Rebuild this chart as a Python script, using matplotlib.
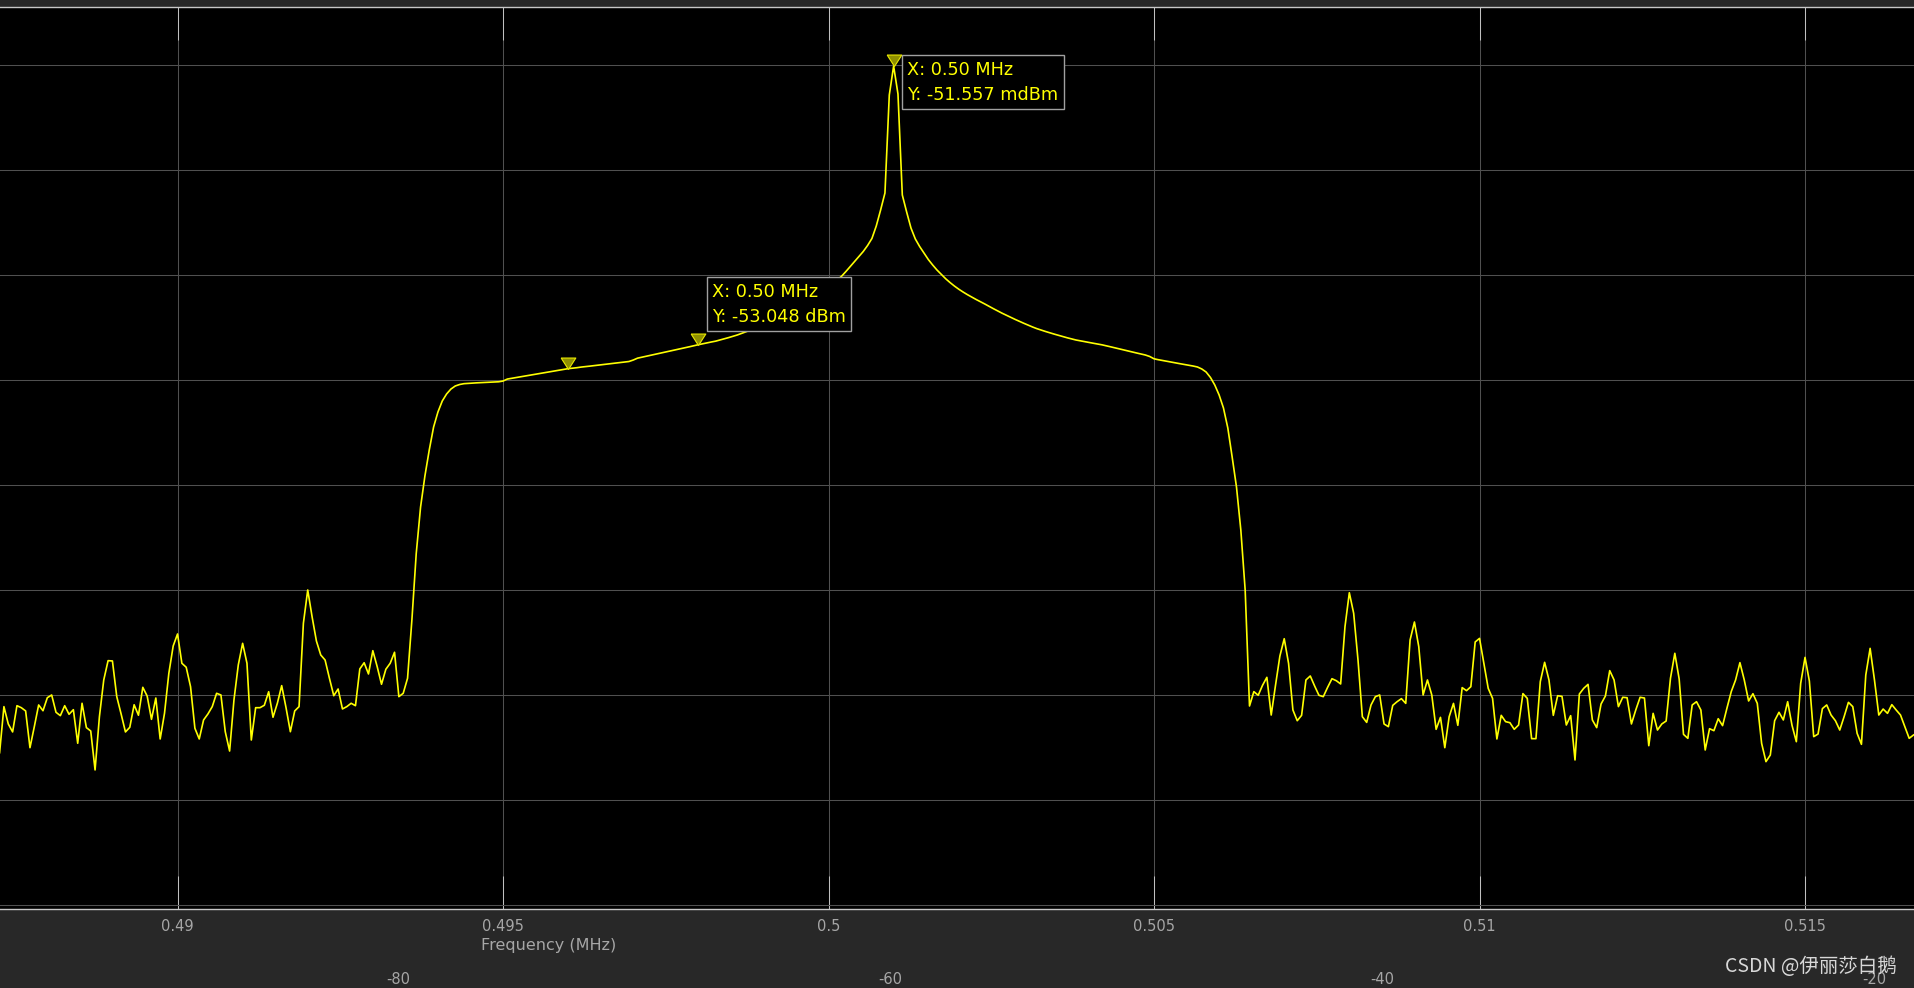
import numpy as np
import matplotlib.pyplot as plt

plt.rcParams['font.family'] = ['DejaVu Sans']
plt.rcParams['axes.unicode_minus'] = False

# spectrum bins (MHz)
freq_first = 0.4872667
freq_step = 0.0000666667

# power (dBm), left noise floor / filter passband / right noise floor
noise_low = [
    -75.47, -71.08, -72.73, -73.49, -70.99, -71.18, -71.49, -74.99, -72.99, -70.92,
    -71.47, -70.23, -69.97, -71.62, -71.94, -70.99, -71.81, -71.37, -74.57, -70.76,
    -73.08, -73.40, -77.11, -72.04, -68.54, -66.70, -66.73, -70.13, -71.78, -73.49,
    -73.05, -70.90, -71.90, -69.24, -70.07, -72.29, -70.26, -74.16, -71.71, -67.90,
    -65.30, -64.16, -66.95, -67.33, -69.18, -73.14, -74.16, -72.35, -71.78, -71.08,
    -69.81, -69.97, -73.47, -75.31, -70.45, -67.11, -65.05, -66.95, -74.26, -71.18,
    -71.18, -70.95, -69.66, -72.09, -70.76, -69.08, -71.18, -73.47, -71.49, -71.08,
    -63.14, -59.97, -62.51, -64.83, -66.16, -66.64, -68.38, -70.04, -69.40, -71.30,
    -71.08, -70.76, -70.99, -67.49, -66.90, -67.97, -65.75, -67.27, -68.95, -67.52,
    -66.95, -65.90, -70.13, -69.81, -68.38, -62.83, -56.50,
]
passband = [
    -52.07, -49.11, -46.64, -44.45, -43.02, -41.97, -41.30, -40.83, -40.54, -40.40,
    -40.32, -40.29, -40.26, -40.24, -40.22, -40.20, -40.18, -40.16, -40.14, -40.07,
    -39.88, -39.81, -39.73, -39.67, -39.59, -39.52, -39.46, -39.38, -39.31, -39.24,
    -39.17, -39.10, -39.03, -38.96, -38.89, -38.85, -38.80, -38.74, -38.70, -38.65,
    -38.60, -38.55, -38.50, -38.45, -38.40, -38.35, -38.30, -38.26, -38.21, -38.07,
    -37.89, -37.80, -37.71, -37.62, -37.53, -37.44, -37.35, -37.26, -37.16, -37.07,
    -36.98, -36.89, -36.80, -36.70, -36.61, -36.52, -36.44, -36.35, -36.27, -36.16,
    -36.05, -35.93, -35.81, -35.68, -35.53, -35.38, -35.22, -35.06, -34.89, -34.70,
    -34.52, -34.33, -34.13, -33.93, -33.72, -33.50, -33.28, -33.05, -32.80, -32.54,
    -32.28, -31.99, -31.70, -31.38, -31.06, -30.71, -30.44, -30.09, -29.64, -29.16,
    -28.69, -28.21, -27.73, -27.16, -26.49, -25.30, -23.78, -22.16, -12.83,
    -10.07,
    -12.73, -22.35, -23.97, -25.50, -26.54, -27.26, -27.88, -28.50, -29.02, -29.50,
    -29.92, -30.33, -30.69, -31.02, -31.32, -31.59, -31.84, -32.07, -32.30, -32.51,
    -32.73, -32.96, -33.18, -33.40, -33.61, -33.81, -34.01, -34.20, -34.39, -34.57,
    -34.75, -34.92, -35.08, -35.22, -35.35, -35.48, -35.60, -35.72, -35.84, -35.95,
    -36.06, -36.16, -36.24, -36.31, -36.39, -36.47, -36.54, -36.62, -36.71, -36.81,
    -36.91, -37.01, -37.10, -37.21, -37.30, -37.40, -37.49, -37.59, -37.73, -37.95,
    -38.04, -38.11, -38.19, -38.27, -38.34, -38.42, -38.49, -38.57, -38.64, -38.73,
    -38.92, -39.21, -39.73, -40.45, -41.40, -42.64, -44.54, -47.30, -50.16, -54.26,
    -59.97,
]
noise_high = [
    -71.02, -69.65, -70.00, -69.05, -68.29, -71.88, -69.02, -66.26, -64.61, -66.96,
    -71.40, -72.42, -71.91, -68.54, -68.16, -69.11, -70.00, -70.13, -69.24, -68.42,
    -68.61, -68.92, -63.46, -60.23, -62.19, -66.64, -72.04, -72.58, -70.92, -70.13,
    -69.97, -72.73, -72.99, -70.96, -70.61, -70.32, -70.77, -64.73, -63.02, -65.37,
    -69.97, -68.54, -69.97, -73.24, -72.10, -74.99, -72.04, -70.77, -72.86, -69.27,
    -69.56, -69.18, -64.92, -64.58, -66.96, -69.34, -70.29, -74.16, -71.91, -72.51,
    -72.61, -73.24, -72.83, -69.84, -70.29, -74.13, -74.13, -68.70, -66.86, -68.54,
    -71.91, -70.04, -70.10, -72.83, -71.94, -76.16, -69.88, -69.34, -68.96, -72.35,
    -73.08, -70.83, -70.07, -67.65, -68.54, -71.08, -70.19, -70.23, -72.73, -71.40,
    -70.19, -70.26, -74.80, -71.72, -73.31, -72.73, -72.45, -68.37, -66.00, -68.45,
    -73.72, -74.10, -70.92, -70.61, -71.40, -75.21, -73.18, -73.37, -72.23, -72.89,
    -71.24, -69.65, -68.54, -66.89, -68.54, -70.54, -69.85, -70.77, -74.58, -76.32,
    -75.69, -72.42, -71.62, -72.35, -70.61, -72.86, -74.42, -68.86, -66.39, -68.64,
    -73.94, -73.69, -71.27, -70.92, -71.88, -72.42, -73.31, -72.04, -70.67, -71.08,
    -73.62, -74.67, -68.07, -65.53, -68.54, -71.88, -71.31, -71.72, -70.89, -71.40,
    -71.88, -72.99, -74.10, -73.78,
]

marker_freqs = [0.496, 0.498, 0.501]
tip_freqs = [0.501, 0.498]
tip_texts = ['X: 0.50 MHz\nY: -51.557 mdBm', 'X: 0.50 MHz\nY: -53.048 dBm']
x_ticks = [0.49, 0.495, 0.5, 0.505, 0.51, 0.515]
other_ticks = [-80, -60, -40, -20]

power = np.array(noise_low + passband + noise_high)
freq = freq_first + freq_step * np.arange(len(power))

def bin_of(f):
    return int(round((f - freq_first) / freq_step))

fig = plt.figure(figsize=(19.14, 9.88), dpi=100, facecolor='#282828')
ax = fig.add_axes([0, 0.0800, 1, 0.9126], facecolor='black')

ax.plot(freq, power, color='#ffff00', lw=1.2, zorder=3)

# datatip markers, tip of the triangle sits on the trace
tri = [(-0.64, 1.0), (0.64, 1.0), (0.0, 0.0), (-0.64, 1.0)]
mp = [power[bin_of(f)] for f in marker_freqs]
ax.plot(marker_freqs, mp, linestyle='none', marker=tri, ms=16.5,
        mfc='#8f8f00', mec='#e8e800', mew=0.8, zorder=4)

tip_offsets = [(13.7, 5.3), (14, 62)]
for f, txt, off in zip(tip_freqs, tip_texts, tip_offsets):
    ax.annotate(txt, xy=(f, power[bin_of(f)]), xytext=off, textcoords='offset pixels',
                ha='left', va='top', color='#ffff00', fontsize=12.7, linespacing=1.5,
                bbox=dict(boxstyle='square,pad=0.3', fc='black', ec='#a0a0a0', lw=1),
                zorder=5)

ax.set_xlim(0.487273, 0.516674)
ax.set_ylim(-90.35, -4.475)
ax.set_xticks(x_ticks)
ax.set_xticklabels([f'{t:g}' for t in x_ticks])
ax.set_yticks(np.arange(-90, -5, 10))
ax.tick_params(axis='y', length=0, labelleft=False)
ax.tick_params(axis='x', direction='in', length=23.8, width=0.75, color='#c0c0c0',
               top=True, labelcolor='#a6a6a6', labelsize=10.5, pad=7.3)
ax.grid(True, color='#505050', lw=0.75)
for s in ['left', 'right']:
    ax.spines[s].set_visible(False)
for s in ['top', 'bottom']:
    ax.spines[s].set_color('#c8c8c8')
    ax.spines[s].set_linewidth(1)

ax.set_xlabel('Frequency (MHz)', fontsize=11.5, color='#a6a6a6', va='center')
ax.xaxis.set_label_coords(0.2868, -0.0410)

# ticks of the panel below, cut off in the screenshot
ax2 = fig.add_axes([0, 8.5 / 988, 1, 0.0005])
ax2.set_facecolor('none')
ax2.set_xlim(-96.18, -18.37)
ax2.set_xticks(other_ticks)
ax2.set_yticks([])
ax2.tick_params(axis='x', length=0, pad=0, labelcolor='#a6a6a6', labelsize=10.5)
for lab in ax2.get_xticklabels():
    lab.set_va('center')
for s in ax2.spines.values():
    s.set_visible(False)

fig.text(1897 / 1914, 1 - 966 / 988, 'CSDN @伊丽莎白鹅', ha='right', va='center',
         fontsize=14, color='#d8d8d8', family=['Noto Sans CJK SC', 'DejaVu Sans'])

fig.savefig('out.png', dpi=100, facecolor=fig.get_facecolor())
